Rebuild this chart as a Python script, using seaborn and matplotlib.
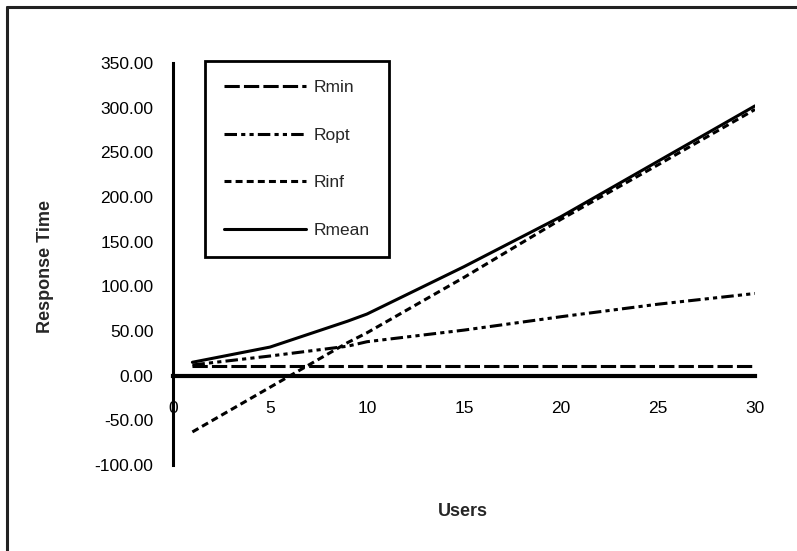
import pandas as pd
import matplotlib
matplotlib.use('Agg')
import matplotlib.pyplot as plt
import seaborn as sns
from matplotlib.lines import Line2D

# data
users = [1, 5, 9, 10, 15, 20, 25, 30]
rmin = [11, 11, 11, 11, 11, 11, 11, 11]
ropt = [12, 22, 33, 38, 51, 66, 80, 92]
rinf = [-63, -13, 37, 48, 110, 175, 236, 298]
rmean = [15, 32, 61, 69, 122, 178, 240, 302]
series_names = ['Rmin', 'Ropt', 'Rinf', 'Rmean']
x_ticks = [0, 5, 10, 15, 20, 25, 30]
y_ticks = [-100, -50, 0, 50, 100, 150, 200, 250, 300, 350]

sns.set_style('white')
plt.rcParams['font.family'] = ['Liberation Sans', 'DejaVu Sans']
plt.rcParams['axes.unicode_minus'] = False
plt.rcParams['lines.scale_dashes'] = False

df = pd.DataFrame({'Users': users, 'Rmin': rmin, 'Ropt': ropt,
                   'Rinf': rinf, 'Rmean': rmean})
long = df.melt(id_vars='Users', value_vars=series_names,
               var_name='series', value_name='Response Time')

dashes = {
    'Rmin': (11, 3),
    'Ropt': (9, 3, 3, 3, 3, 3),
    'Rinf': (5, 3),
    'Rmean': '',
}

fig = plt.figure(figsize=(7.97, 5.51), dpi=100)
W, H = 797, 551
ax = fig.add_axes([173 / W, 1 - 465 / H, (755 - 173) / W, (465 - 63) / H])

sns.lineplot(data=long, x='Users', y='Response Time', hue='series',
             style='series', hue_order=series_names, style_order=series_names,
             palette=['black'] * 4, dashes=dashes, linewidth=2.2,
             legend=False, ax=ax)

ax.set_xlim(0, 30)
ax.set_ylim(-100, 350)
ax.set_xticks(x_ticks)
ax.set_yticks(y_ticks)
ax.set_xticklabels([str(t) for t in x_ticks])
ax.set_yticklabels(['%.2f' % t for t in y_ticks])

ax.spines['top'].set_visible(False)
ax.spines['right'].set_visible(False)
ax.spines['bottom'].set_position(('data', 0))
ax.spines['left'].set_position(('data', 0))
ax.spines['bottom'].set_linewidth(3)
ax.spines['left'].set_linewidth(2.2)
for s in ['bottom', 'left']:
    ax.spines[s].set_color('black')
ax.tick_params(axis='x', direction='inout', length=11, width=2.2,
               pad=13, labelsize=12.5, colors='black')
ax.tick_params(axis='y', direction='inout', length=9, width=2.2,
               pad=9.5, labelsize=12.5, colors='black')
ax.set_xlabel('')
ax.set_ylabel('')
ax.grid(False)

fig.text(45 / W, 1 - 266 / H, 'Response Time', rotation=90,
         ha='center', va='center', fontsize=13, fontweight='bold')
fig.text(463 / W, 1 - 512 / H, 'Users', ha='center', va='center',
         fontsize=13, fontweight='bold')

handles = []
for n in series_names:
    if dashes[n]:
        handles.append(Line2D([], [], color='black', linewidth=2.2,
                              linestyle=(0, dashes[n])))
    else:
        handles.append(Line2D([], [], color='black', linewidth=2.2,
                              linestyle='-'))
leg = ax.legend(handles, series_names, loc='upper left',
                bbox_to_anchor=(205 / W, 1 - 61 / H),
                bbox_transform=fig.transFigure, fontsize=12.5,
                frameon=True, fancybox=False, shadow=False,
                handlelength=4.7, handletextpad=0.45, labelspacing=1.87,
                borderpad=1.1, borderaxespad=0)
leg.get_frame().set_edgecolor('black')
leg.get_frame().set_linewidth(2)
leg.get_frame().set_alpha(1)

# outer frame: only top and left edges show in the reference
fig.add_artist(Line2D([7 / W, 1], [1 - 7 / H, 1 - 7 / H],
                      transform=fig.transFigure, color='#222222', lw=2.2))
fig.add_artist(Line2D([7 / W, 7 / W], [0, 1 - 7 / H],
                      transform=fig.transFigure, color='#222222', lw=2.2))

fig.savefig('out.png', dpi=100)
